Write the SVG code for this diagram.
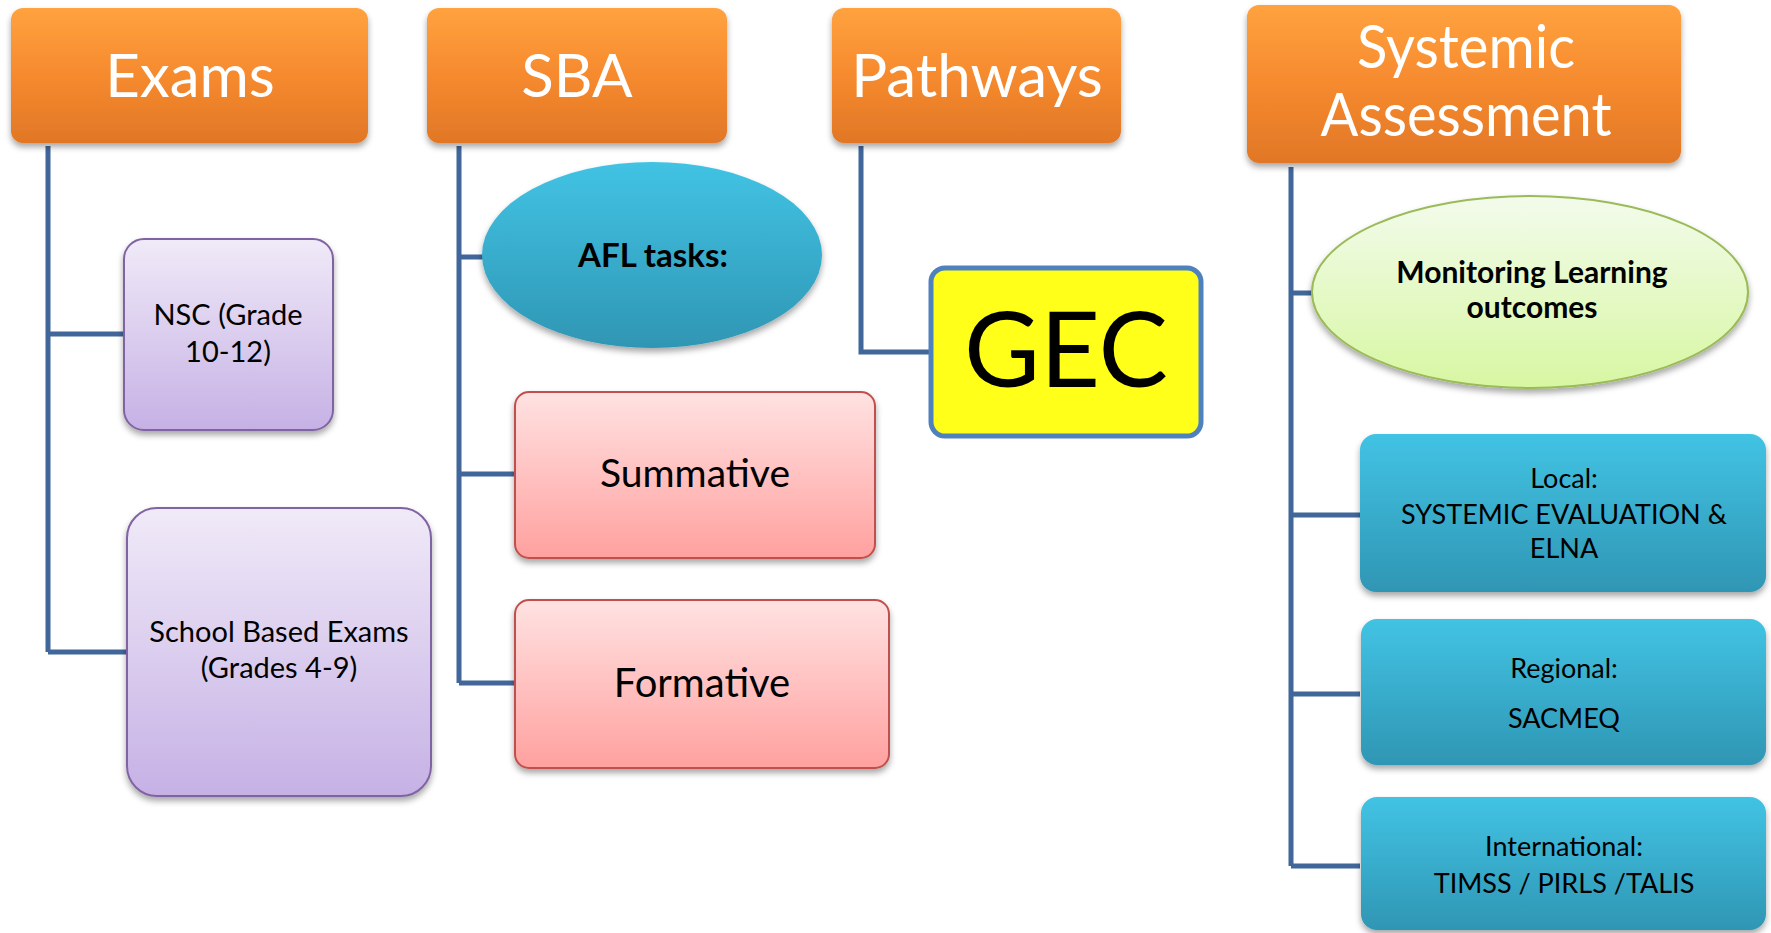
<svg xmlns="http://www.w3.org/2000/svg" width="1771" height="933" viewBox="0 0 1771 933">
<defs>
<linearGradient id="gOrange" x1="0" y1="0" x2="0" y2="1">
<stop offset="0" stop-color="#FFA23F"/><stop offset="0.5" stop-color="#F68A2E"/><stop offset="1" stop-color="#E17727"/>
</linearGradient>
<linearGradient id="gPurple" x1="0" y1="0" x2="0" y2="1">
<stop offset="0" stop-color="#F0EAF8"/><stop offset="1" stop-color="#C6B1E5"/>
</linearGradient>
<linearGradient id="gPink" x1="0" y1="0" x2="0" y2="1">
<stop offset="0" stop-color="#FFE2E2"/><stop offset="1" stop-color="#FFA19F"/>
</linearGradient>
<linearGradient id="gCyan" x1="0" y1="0" x2="0" y2="1">
<stop offset="0" stop-color="#42C3E4"/><stop offset="1" stop-color="#2F96B4"/>
</linearGradient>
<linearGradient id="gGreen" x1="0" y1="0" x2="0" y2="1">
<stop offset="0" stop-color="#F3FBEC"/><stop offset="1" stop-color="#D7F7A2"/>
</linearGradient>
<filter id="sh" x="-10%" y="-10%" width="120%" height="130%">
<feDropShadow dx="0" dy="4" stdDeviation="3" flood-color="#000" flood-opacity="0.35"/>
</filter>
</defs>
<style>
text{font-family:Lato,"Open Sans","Liberation Sans",sans-serif;text-anchor:middle;fill:#000}
.hd{fill:#fff;font-size:60px}
.orange{fill:url(#gOrange);filter:url(#sh)}
.purple{fill:url(#gPurple);stroke:#8064A2;stroke-width:2;filter:url(#sh)}
.pink{fill:url(#gPink);stroke:#C0504D;stroke-width:2;filter:url(#sh)}
.cyan{fill:url(#gCyan);filter:url(#sh)}
.green{fill:url(#gGreen);stroke:#9BBB59;stroke-width:2;filter:url(#sh)}
.conn{fill:none;stroke:#41679A;stroke-width:5}
.sm{font-size:27px}
.pu{font-size:29px}
.bd{font-weight:bold}
</style>
<rect width="1771" height="933" fill="#fff"/>
<g id="connectors">
<path class="conn" d="M48,146 V652 M48,334 H124 M48,652 H127"/>
<path class="conn" d="M459,146 V683 M459,257 H484 M459,474 H515 M459,683 H515"/>
<path class="conn" d="M861,146 V352 H931"/>
<path class="conn" d="M1291,167 V866 M1291,293 H1313 M1291,515 H1360 M1291,694 H1360 M1291,866 H1360"/>
</g>
<g id="exams">
<rect class="orange" x="11" y="8" width="357" height="135" rx="12"/>
<text class="hd" x="190" y="97">Exams</text>
</g>
<g id="sba">
<rect class="orange" x="427" y="8" width="300" height="135" rx="12"/>
<text class="hd" x="577" y="97">SBA</text>
</g>
<g id="pathways">
<rect class="orange" x="832" y="8" width="289" height="135" rx="12"/>
<text class="hd" x="977" y="97">Pathways</text>
</g>
<g id="systemic">
<rect class="orange" x="1247" y="5" width="434" height="158" rx="12"/>
<text class="hd" x="1466" y="68" textLength="218" lengthAdjust="spacingAndGlyphs">Systemic</text>
<text class="hd" x="1466" y="136" textLength="291" lengthAdjust="spacingAndGlyphs">Assessment</text>
</g>
<g id="nsc">
<rect class="purple" x="124" y="239" width="209" height="191" rx="20"/>
<text class="pu" x="228" y="325">NSC (Grade</text>
<text class="pu" x="228" y="362">10-12)</text>
</g>
<g id="school-exams">
<rect class="purple" x="127" y="508" width="304" height="288" rx="30"/>
<text class="pu" x="279" y="642">School Based Exams</text>
<text class="pu" x="279" y="678">(Grades 4-9)</text>
</g>
<g id="afl">
<ellipse class="cyan" cx="652" cy="255" rx="170" ry="93"/>
<text class="bd" x="653" y="267" font-size="33">AFL tasks:</text>
</g>
<g id="summative">
<rect class="pink" x="515" y="392" width="360" height="166" rx="14"/>
<text x="695" y="487" font-size="39">Summative</text>
</g>
<g id="formative">
<rect class="pink" x="515" y="600" width="374" height="168" rx="14"/>
<text x="702" y="697" font-size="40">Formative</text>
</g>
<g id="gec">
<rect x="931" y="268" width="270" height="168" rx="14" fill="#FFFF1A" stroke="#4F81BD" stroke-width="5"/>
<text x="1066" y="387" font-size="104">GEC</text>
</g>
<g id="monitoring">
<ellipse class="green" cx="1530" cy="292" rx="218" ry="96"/>
<text class="bd" x="1532" y="283" font-size="30">Monitoring Learning</text>
<text class="bd" x="1532" y="318" font-size="30">outcomes</text>
</g>
<g id="local">
<rect class="cyan" x="1360" y="434" width="406" height="158" rx="16"/>
<text class="sm" x="1564" y="488">Local:</text>
<text class="sm" x="1564" y="524">SYSTEMIC EVALUATION &amp;</text>
<text class="sm" x="1564" y="558">ELNA</text>
</g>
<g id="regional">
<rect class="cyan" x="1361" y="619" width="405" height="146" rx="16"/>
<text class="sm" x="1564" y="678">Regional:</text>
<text class="sm" x="1564" y="728">SACMEQ</text>
</g>
<g id="international">
<rect class="cyan" x="1361" y="797" width="405" height="133" rx="16"/>
<text class="sm" x="1564" y="856">International:</text>
<text class="sm" x="1564" y="893">TIMSS / PIRLS /TALIS</text>
</g>
</svg>
